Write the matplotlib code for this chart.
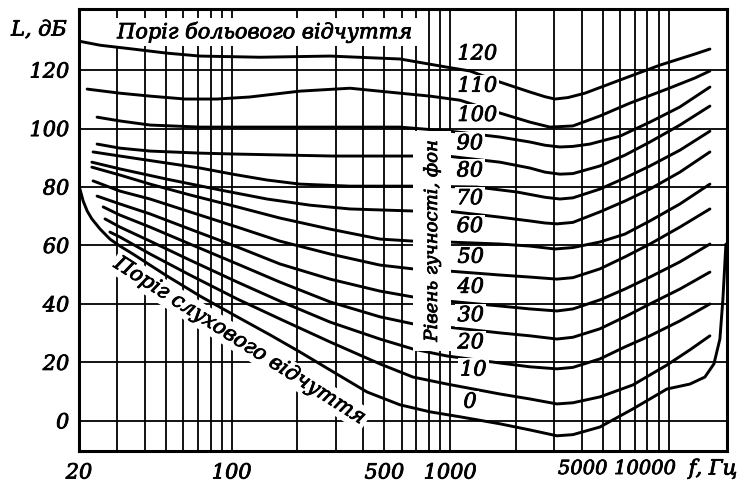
import matplotlib
matplotlib.use("Agg")
import matplotlib.pyplot as plt
import matplotlib.patheffects as pe

# axes
x_ticks = [20, 100, 500, 1000, 5000, 10000]
x_tick_labels = ["20", "100", "500", "1000", "5000", "10000"]
x_grid = [30, 40, 50, 60, 70, 80, 90, 200, 300, 400, 600, 700, 800, 900,
          2000, 3000, 4000, 6000, 7000, 8000, 9000]
y_ticks = [0, 20, 40, 60, 80, 100, 120]

# equal loudness curves: frequency (Hz) and sound level (dB)
f_120 = [20, 25.0, 35.3, 50.5, 71.6, 135, 282, 589, 967, 1232, 1690, 2318, 2715,
         3016, 3459, 4139, 5984, 9120, 13195, 15450]
L_120 = [129.9, 128.5, 127.2, 125.8, 124.8, 124.4, 124.8, 123.8, 121.0, 119.7,
         115.9, 112.5, 110.9, 110.1, 110.6, 112.1, 116.6, 121.7, 125.5, 127.2]

f_110 = [21.8, 30.8, 42.3, 61.1, 85.6, 121, 205, 348, 589, 808, 1109, 1690, 2318,
         2861, 3646, 4846, 6649, 9820, 13195, 15450]
L_110 = [113.5, 112.1, 111.1, 110.1, 110.1, 110.8, 112.8, 113.8, 112.1, 111.1,
         109.7, 105.3, 102.2, 100.5, 100.9, 104.3, 108.7, 113.5, 117.3, 119.7]

f_100 = [24.2, 30.8, 42.3, 71.6, 205, 589, 998, 1690, 2318, 2715, 3180, 3646,
         4363, 5984, 8210, 11262, 15450]
L_100 = [103.9, 102.6, 101.2, 100.5, 100.5, 100.5, 99.1, 97.1, 95.4, 94.3, 93.7,
         93.9, 94.7, 97.4, 102.2, 107.4, 114.2]

f_90 = [24.2, 30.8, 42.3, 71.6, 101, 291, 705, 967, 1690, 2318, 2715, 3180, 3646,
        4846, 6308, 8210, 11262, 15450]
L_90 = [94.7, 93.3, 92.3, 91.6, 91.3, 90.6, 90.6, 90.6, 88.5, 86.5, 85.1, 84.4,
        84.6, 87.2, 90.9, 95.4, 101.2, 107.7]

f_80 = [23.2, 30.8, 50.5, 71.6, 101, 145, 205, 348, 675, 1326, 2021, 2715, 3180,
        3646, 4846, 6308, 8210, 11262, 15450]
L_80 = [92.0, 90.6, 88.2, 86.5, 84.4, 82.4, 81.0, 80.3, 80.3, 80.0, 78.3, 76.5,
        75.9, 76.3, 79.3, 83.1, 87.2, 92.6, 99.1]

f_70 = [22.9, 30.8, 50.5, 88.4, 145, 228, 348, 675, 967, 1690, 2318, 2715, 3082,
        3646, 4846, 6308, 8210, 11262, 15450]
L_70 = [88.5, 86.2, 82.7, 79.0, 75.9, 73.8, 72.5, 71.8, 71.8, 69.7, 68.4, 67.7,
        67.4, 67.9, 71.5, 75.2, 79.3, 85.1, 92.0]

f_60 = [22.9, 30.8, 42.3, 64.4, 106, 166, 282, 477, 675, 967, 1690, 2318, 3016,
        3646, 4846, 6308, 8210, 11262, 15450]
L_60 = [86.8, 84.1, 81.0, 77.3, 73.2, 69.4, 65.6, 62.2, 61.5, 61.2, 60.5, 59.8,
        58.8, 59.3, 61.2, 63.9, 68.4, 74.2, 81.0]

f_50 = [23.2, 30.8, 42.3, 64.4, 106, 166, 282, 477, 675, 967, 1690, 2318, 3082,
        3646, 4846, 6308, 8210, 11262, 15450]
L_50 = [82.1, 78.6, 75.9, 71.5, 66.3, 61.5, 57.1, 53.3, 52.0, 51.3, 49.9, 49.2,
        48.5, 49.0, 52.0, 56.1, 60.5, 66.3, 72.5]

f_40 = [24.2, 30.8, 42.3, 64.4, 106, 166, 282, 477, 675, 967, 1690, 2318, 3082,
        3646, 4846, 6308, 8210, 11262, 15450]
L_40 = [76.9, 74.2, 70.8, 65.6, 59.5, 53.7, 48.5, 44.4, 42.4, 41.0, 39.3, 38.3,
        37.6, 38.3, 41.4, 45.1, 49.2, 54.4, 60.5]

f_30 = [25.8, 30.8, 42.3, 64.4, 106, 166, 282, 477, 675, 967, 1690, 2318, 3082,
        3646, 4846, 6308, 8210, 11262, 15450]
L_30 = [73.2, 70.4, 66.3, 60.5, 53.7, 47.5, 40.7, 35.6, 33.2, 32.1, 30.1, 29.1,
        28.0, 28.6, 31.5, 35.6, 40.0, 45.1, 50.9]

f_20 = [26.3, 30.8, 42.3, 64.4, 106, 166, 282, 477, 675, 967, 1690, 2318, 3082,
        3646, 4846, 6308, 8210, 11262, 15450]
L_20 = [69.1, 66.3, 61.5, 55.0, 47.5, 41.0, 33.8, 28.0, 24.6, 22.2, 19.8, 18.5,
        17.8, 18.3, 21.2, 25.3, 29.1, 34.2, 40.0]

f_10 = [27.7, 30.8, 42.3, 64.4, 106, 166, 282, 477, 675, 967, 1690, 2318, 3082,
        3646, 4846, 6864, 9820, 12513, 15450]
L_10 = [64.6, 62.9, 57.1, 49.9, 41.7, 34.9, 27.0, 19.5, 15.0, 12.6, 9.2, 7.5,
        5.8, 6.2, 8.2, 12.3, 19.1, 24.3, 29.1]

f_0 = [20.2, 20.9, 21.8, 22.9, 25.0, 27.7, 30.8, 35.3, 42.3, 50.5, 71.6, 106, 150,
       205, 291, 416, 589, 808, 1109, 1690, 2318, 3082, 3646, 4846, 6864, 9820,
       12513, 14655, 16118, 17166, 17720, 18290]
L_0 = [79.3, 75.2, 71.8, 69.1, 65.6, 62.2, 59.8, 57.1, 53.3, 49.6, 42.7, 35.6,
       29.4, 23.6, 16.8, 9.9, 5.5, 3.1, 1.4, -1.0, -3.1, -5.1, -4.7, -2.1, 4.1,
       10.9, 12.6, 15.0, 19.5, 28.0, 41.7, 60.5]

phon_levels = [120, 110, 100, 90, 80, 70, 60, 50, 40, 30, 20, 10, 0]
curves = [(f_120, L_120), (f_110, L_110), (f_100, L_100), (f_90, L_90),
          (f_80, L_80), (f_70, L_70), (f_60, L_60), (f_50, L_50),
          (f_40, L_40), (f_30, L_30), (f_20, L_20), (f_10, L_10), (f_0, L_0)]
# where each phon number sits on the chart (Hz, dB)
label_f = [1080, 1080, 1080, 1070, 1070, 1070, 1070, 1080, 1080, 1080, 1080, 1110, 1150]
label_L = [125.5, 114.5, 104.5, 94.8, 85.5, 76, 66.5, 56, 45.7, 36, 26.7, 17.4, 6.4]

serif = "DejaVu Serif"
fs = 15
ink = [pe.withStroke(linewidth=0.6, foreground="black")]

fig = plt.figure(figsize=(7.5, 4.85), dpi=100)
ax = fig.add_axes([79 / 750, 1 - 452 / 485, 648 / 750, 442 / 485])
ax.set_xscale("log")
ax.set_xlim(20, 18500)
ax.set_ylim(-10.3, 140.9)

for (f, L) in curves:
    ax.plot(f, L, color="black", lw=2.1, zorder=4, solid_capstyle="round",
            solid_joinstyle="round")

ax.set_xticks(x_grid, minor=True)
ax.set_xticks(x_ticks)
ax.set_xticklabels(["" if t in ("5000", "10000") else t for t in x_tick_labels])
ax.set_yticks(y_ticks)
ax.grid(which="both", color="black", lw=1.3, zorder=1)
ax.tick_params(which="both", length=0)
ax.tick_params(axis="x", pad=9)
ax.tick_params(axis="y", pad=7)
for lbl in ax.get_xticklabels() + ax.get_yticklabels():
    lbl.set_fontfamily(serif)
    lbl.set_fontstyle("italic")
    lbl.set_fontsize(fs)
    lbl.set_path_effects(ink)
# the two right-hand frequency labels sit left of their grid lines
for val, txt, dx in [(5000, "5000", -14.5), (10000, "10000", -17)]:
    ax.annotate(txt, xy=(val, 0), xycoords=("data", "axes fraction"),
                xytext=(dx, -6.5), textcoords="offset points",
                ha="center", va="top", fontsize=14, family=serif, style="italic",
                path_effects=ink)
for spine in ax.spines.values():
    spine.set_linewidth(2.2)
    spine.set_zorder(6)

white = dict(facecolor="white", edgecolor="none", pad=1.5)

for p, xf, yl in zip(phon_levels, label_f, label_L):
    ax.text(xf, yl, str(p), fontsize=fs, family=serif, style="italic",
            ha="left", va="center", bbox=white, zorder=5, path_effects=ink)

ax.text((265 - 79) / 648, 1 - 23 / 442, "Поріг больового відчуття",
        transform=ax.transAxes, fontsize=fs, family=serif, style="italic",
        ha="center", va="center", bbox=dict(facecolor="white", edgecolor="none", pad=3),
        zorder=3, path_effects=ink)
ax.text((240 - 79) / 648, (452 - 342) / 442, "Поріг слухового відчуття",
        transform=ax.transAxes, fontsize=fs, family=serif, style="italic",
        rotation=-32.5, rotation_mode="anchor", ha="center", va="center",
        bbox=dict(facecolor="white", edgecolor="none", pad=2), zorder=3,
        path_effects=ink)
ax.text((432 - 79) / 648, (452 - 242) / 442, "Рівень гучності, фон",
        transform=ax.transAxes, fontsize=13, family=serif, style="italic",
        rotation=90, ha="center", va="center",
        bbox=dict(facecolor="white", edgecolor="none", pad=7), zorder=5,
        path_effects=ink)

fig.text(39 / 750, 1 - 31 / 485, "L, дБ", fontsize=fs, family=serif,
         style="italic", ha="center", va="center", path_effects=ink)
fig.text(713 / 750, 1 - 470 / 485, "f, Гц", fontsize=fs, family=serif,
         style="italic", ha="center", va="center", path_effects=ink)

fig.savefig("out.png", dpi=100, facecolor="white")
